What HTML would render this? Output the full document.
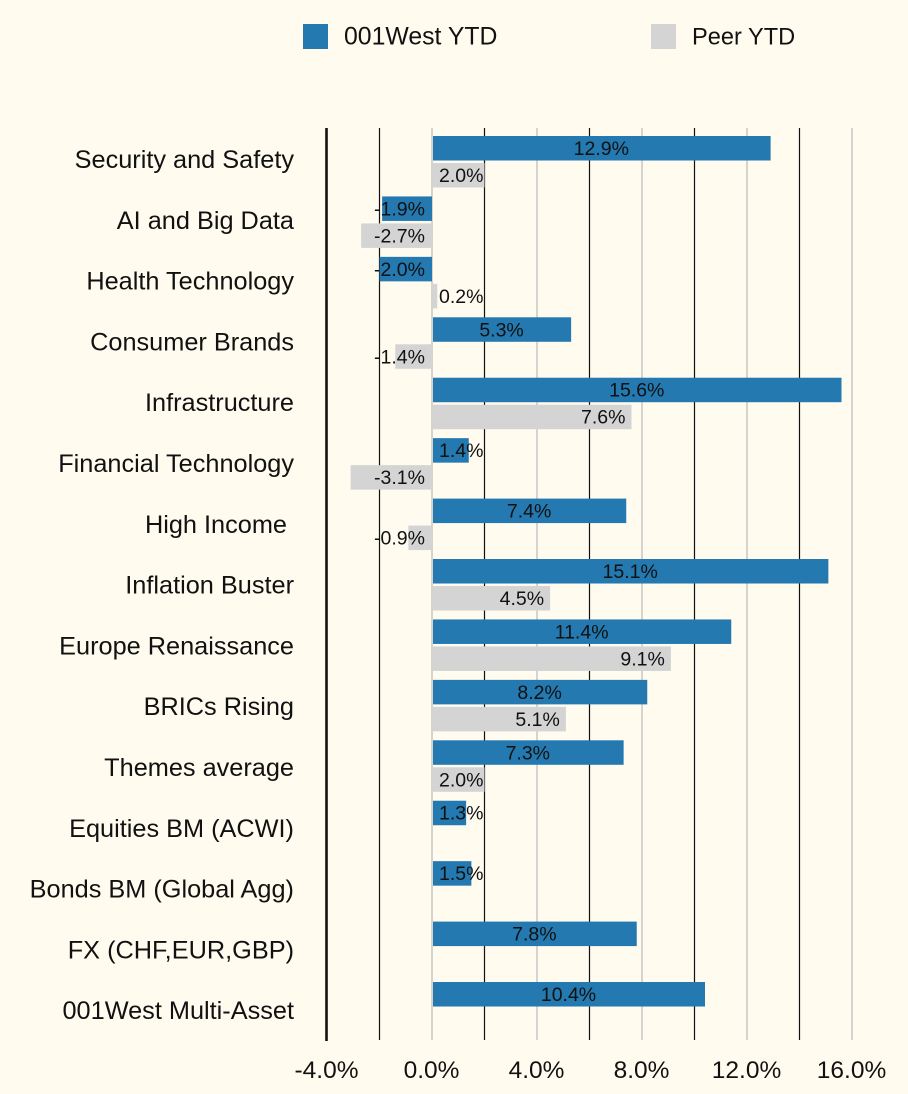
<!DOCTYPE html>
<html lang="en">
<head>
<meta charset="utf-8">
<title>001West YTD vs Peer YTD</title>
<style>
html,body{margin:0;padding:0;background:#fffbef;}
svg{display:block;font-family:"Liberation Sans",sans-serif;}
text{fill:#111;}
</style>
</head>
<body>
<svg id="chart" width="908" height="1094" viewBox="0 0 908 1094" xmlns="http://www.w3.org/2000/svg">
<rect width="908" height="1094" fill="#fffbef"/>
<g>
<rect x="303" y="24" width="25" height="25" fill="#2379b0"/>
<text x="344" y="44.5" font-size="24.8">001West YTD</text>
<rect x="651" y="24" width="25" height="25" fill="#d4d4d4"/>
<text x="692" y="44.5" font-size="23.6">Peer YTD</text>
</g>
<g id="grid"></g>
<g id="bars"></g>
<g id="values"></g>
<g id="cats"></g>
<g id="ticks"></g>
</svg>
<script>
const categories = ["Security and Safety","AI and Big Data","Health Technology","Consumer Brands","Infrastructure","Financial Technology","High Income ","Inflation Buster","Europe Renaissance","BRICs Rising","Themes average","Equities BM (ACWI)","Bonds BM (Global Agg)","FX (CHF,EUR,GBP)","001West Multi-Asset"];
const west = [12.9,-1.9,-2.0,5.3,15.6,1.4,7.4,15.1,11.4,8.2,7.3,1.3,1.5,7.8,10.4];
const peer = [2.0,-2.7,0.2,-1.4,7.6,-3.1,-0.9,4.5,9.1,5.1,2.0,null,null,null,null];
const gridValues = [-2,0,2,4,6,8,10,12,14,16];
const tickValues = [-4,0,4,8,12,16];

const NS = "http://www.w3.org/2000/svg";
const x = v => 432 + v * 26.25;
const barTop = i => 136 + i * 60.43;
const catY = i => 159 + i * 60.8;
const fmt = v => v.toFixed(1) + "%";

function make(tag, attrs, parent, txt) {
  const el = document.createElementNS(NS, tag);
  for (const k in attrs) el.setAttribute(k, attrs[k]);
  if (txt !== undefined) el.textContent = txt;
  parent.appendChild(el);
  return el;
}
const gGrid = document.getElementById("grid");
const gBars = document.getElementById("bars");
const gVals = document.getElementById("values");
const gCats = document.getElementById("cats");
const gTicks = document.getElementById("ticks");

gridValues.forEach((v, n) => {
  const major = n % 2 === 0;
  const l = make("line", {x1: x(v), x2: x(v), y1: 128, y2: 1040, stroke: major ? "#111" : "#b9b9b9", "stroke-width": 1.2}, gGrid);
  
  
});
const axisLine = make("line", {x1: x(-4) - 0.5, x2: x(-4) - 0.5, y1: 128, y2: 1041, stroke: "#111", "stroke-width": 2.6}, gGrid);



const LABEL = 46, FS = 19.5;
function drawBar(v, top, fill, name) {
  const r = make("rect", {x: Math.min(x(0), x(v)) + (v > 0 ? 1 : 0), y: top, width: Math.abs(x(v) - x(0)) - (v > 0 ? 1 : 0), height: 24.5, fill}, gBars);
  
  
}
function drawValue(v, top, mode) {
  const y = top + 19;
  let px, anchor;
  if (v < 0) { px = x(0) - 7; anchor = "end"; }
  else if (mode === "center") {
    const mid = (x(0) + x(v)) / 2;
    if (mid - LABEL / 2 < x(0) + 7) { px = x(0) + 7; anchor = "start"; }
    else { px = mid; anchor = "middle"; }
  } else {
    const end = x(v) - 6;
    if (end - LABEL < x(0) + 7) { px = x(0) + 7; anchor = "start"; }
    else { px = end; anchor = "end"; }
  }
  const t = make("text", {x: px, y, "font-size": FS, "text-anchor": anchor}, gVals, fmt(v));
  
  
}
categories.forEach((c, i) => {
  const t = make("text", {x: 294, y: catY(i) + 9, "font-size": 25.3, "text-anchor": "end", style: "white-space:pre"}, gCats, c);
  
  
  drawBar(west[i], barTop(i), "#2379b0", "bar-001west");
  if (peer[i] !== null) drawBar(peer[i], barTop(i) + 27, "#d4d4d4", "bar-peer");
});
categories.forEach((c, i) => {
  drawValue(west[i], barTop(i), "center");
  if (peer[i] !== null) drawValue(peer[i], barTop(i) + 27, "end");
});
tickValues.forEach(v => {
  const t = make("text", {x: x(v) - 0.5, y: 1078, "font-size": 24.5, "text-anchor": "middle"}, gTicks, fmt(v));
  
  
});
</script>
</body>
</html>
